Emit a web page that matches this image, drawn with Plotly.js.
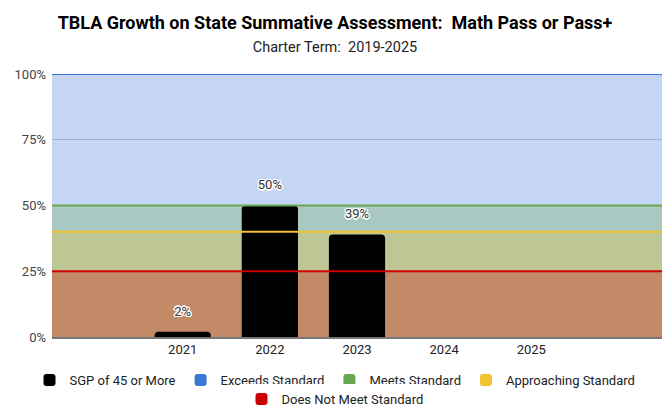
<!DOCTYPE html>
<html>
<head>
<meta charset="utf-8">
<script src="https://cdn.plot.ly/plotly-3.0.1.min.js"></script>
<style>html,body{margin:0;padding:0;background:#fff;}#chart{width:670px;height:410px;}</style>
</head>
<body>
<div id="chart"></div>
<script>
// ---- data ----
const categories = ['2020', '2021', '2022', '2023', '2024', '2025', '2026'];
const tickLabels = ['', '2021', '2022', '2023', '2024', '2025', ''];
const sgpValues = [null, 2, 50, 39, null, null, null];
const yTicks = [0, 25, 50, 75, 100];
const bandNames = ['Exceeds Standard', 'Meets Standard', 'Approaching Standard', 'Does Not Meet Standard'];
const bandLevels = [100, 50, 40, 25];
const bandColors = ['#3c78d8', '#6aa84f', '#f1c232', '#cc0000'];
const bandFills = ['rgba(60,120,216,0.3)', 'rgba(106,168,79,0.3)', 'rgba(241,194,50,0.3)', 'rgba(204,0,0,0.3)'];
const bandSpan = [0, 1];

const FONT = 'Roboto, "Open Sans", Arial, sans-serif';
const HALO = 'white 1px 1px 0px, white -1px -1px 0px, white 1px -1px 0px, white -1px 1px 0px, white 0px 1.5px 0px, white 0px -1.5px 0px, white 1.5px 0px 0px, white -1.5px 0px 0px';
const traces = [];

// band fills (bottom layer, hidden linear x axis)
bandLevels.forEach((lv, i) => {
  traces.push({
    type: 'scatter', mode: 'none', xaxis: 'x', yaxis: 'y',
    x: bandSpan, y: bandSpan.map(() => lv),
    fill: 'tozeroy', fillcolor: bandFills[i],
    showlegend: false, hoverinfo: 'skip'
  });
});

// bars (middle layer, category axis)
traces.push({
  type: 'bar', xaxis: 'x2', yaxis: 'y',
  x: categories, y: sgpValues,
  name: 'SGP of 45 or More',
  marker: {color: '#000000'},
  legend: 'legend'
});

// value labels above bars
traces.push({
  type: 'scatter', mode: 'markers+text', xaxis: 'x2', yaxis: 'y',
  x: categories, y: sgpValues,
  text: sgpValues.map(v => v == null ? '' : v + '%'), textposition: 'top center',
  marker: {size: 19, color: 'rgba(0,0,0,0)'},
  textfont: {family: FONT, size: 13, color: '#333333', shadow: HALO},
  showlegend: false, hoverinfo: 'skip', cliponaxis: false
});

// threshold lines (top layer)
bandLevels.forEach((lv, i) => {
  traces.push({
    type: 'scatter', mode: 'lines', xaxis: 'x3', yaxis: 'y',
    x: bandSpan, y: bandSpan.map(() => lv),
    line: {color: bandColors[i], width: 2},
    showlegend: false, hoverinfo: 'skip'
  });
});

// legend entries for the bands
bandNames.forEach((nm, i) => {
  traces.push({
    type: 'bar', xaxis: 'x2', yaxis: 'y',
    x: [categories[0]], y: [null],
    name: nm, marker: {color: bandColors[i]},
    legend: i === 3 ? 'legend2' : 'legend'
  });
});

const layout = {
  width: 670, height: 410,
  paper_bgcolor: '#ffffff', plot_bgcolor: 'rgba(0,0,0,0)',
  margin: {l: 52, r: 8, t: 74, b: 73},
  font: {family: FONT, size: 13, color: '#222222'},
  title: {
    text: 'TBLA Growth on State Summative Assessment:\u00a0 Math Pass or Pass+<br><span style="font-size:14.5px;font-weight:normal;color:#222222">Charter Term:\u00a0 2019-2025</span>',
    font: {family: FONT, size: 18, weight: 'bold', color: '#000000'},
    x: 0.5, xanchor: 'center', xref: 'container', yref: 'container', y: 0.93, yanchor: 'top'
  },
  barmode: 'overlay',
  bargap: 0.355,
  barcornerradius: 4,
  xaxis: {type: 'linear', range: [0, 1], visible: false, fixedrange: true},
  xaxis2: {type: 'category', overlaying: 'x', side: 'bottom', range: [-0.5, 6.5],
           tickvals: categories, ticktext: tickLabels, showgrid: false,
           showline: true, linecolor: '#777777', linewidth: 1.5, ticks: '',
           tickfont: {family: FONT, size: 13, color: '#222222'}},
  xaxis3: {type: 'linear', overlaying: 'x', range: [0, 1], visible: false},
  yaxis: {range: [0, 100], tickmode: 'array', tickvals: yTicks, ticktext: yTicks.map(v => v + '%'),
          gridcolor: '#cccccc', zeroline: false, showline: false,
          tickfont: {family: FONT, size: 13, color: '#444444'}, ticklabelstandoff: 5},
  legend: {orientation: 'h', x: 0.5, xref: 'container', xanchor: 'center', yref: 'container', y: 0.073, yanchor: 'middle',
           font: {family: FONT, size: 13, color: '#222222'}, traceorder: 'normal', itemclick: false},
  legend2: {orientation: 'h', x: 0.5, xref: 'container', xanchor: 'center', yref: 'container', y: 0.027, yanchor: 'middle',
            font: {family: FONT, size: 13, color: '#222222'}, itemclick: false},
  showlegend: true
};

Plotly.newPlot('chart', traces, layout, {displayModeBar: false, staticPlot: true});
</script>
</body>
</html>
